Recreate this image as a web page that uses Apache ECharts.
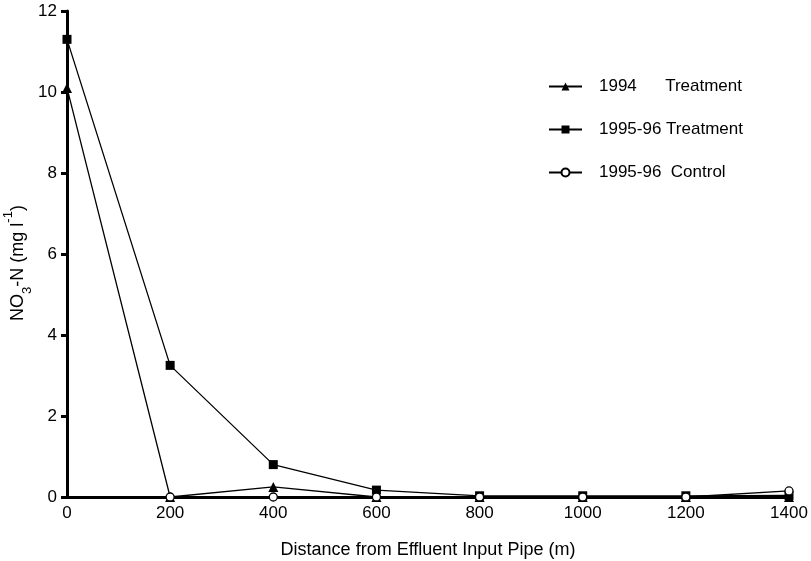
<!DOCTYPE html>
<html>
<head>
<meta charset="utf-8">
<script src="https://cdn.jsdelivr.net/npm/echarts@6/dist/echarts.min.js"></script>
<style>
  html, body { margin: 0; padding: 0; background: #fff; }
  #chart { width: 811px; height: 561px; }
</style>
</head>
<body>
<div id="chart"></div>
<script>
// distance from effluent input pipe (m)
var distances = [0, 200, 400, 600, 800, 1000, 1200, 1400];
// NO3-N (mg l-1)
var treat1994 = [10.1, 0, 0.25, 0, 0, 0, 0, 0];
var treat9596 = [11.3, 3.25, 0.8, 0.17, 0.03, 0.03, 0.03, 0.04];
var control9596 = [null, 0, 0, 0, 0, 0, 0, 0.15];
var seriesNames = ['1994      Treatment', '1995-96 Treatment', '1995-96  Control'];

function pairs(vals) {
  var out = [];
  for (var i = 0; i < distances.length; i++) {
    if (vals[i] !== null) out.push([distances[i], vals[i]]);
  }
  return out;
}

var font = 'Liberation Sans, Arial, sans-serif';
var chart = echarts.init(document.getElementById('chart'));

chart.setOption({
  animation: false,
  backgroundColor: '#fff',
  grid: { left: 67, right: 22, top: 11, bottom: 64, outerBoundsMode: 'none', containLabel: false },
  legend: {
    orient: 'vertical',
    left: 543,
    top: 73,
    itemWidth: 33,
    itemHeight: 10,
    itemGap: 26,
    textStyle: { fontFamily: font, fontSize: 17, color: '#000', padding: [0, 0, 0, 12] },
    data: seriesNames
  },
  xAxis: {
    type: 'value',
    min: 0, max: 1400, interval: 200,
    name: 'Distance from Effluent Input Pipe (m)',
    nameLocation: 'middle',
    nameGap: 44,
    nameTextStyle: { fontFamily: font, fontSize: 18, color: '#000' },
    axisLine: { show: true, lineStyle: { color: '#000', width: 3 } },
    axisTick: { show: false },
    splitLine: { show: false },
    axisLabel: {
      fontFamily: font, fontSize: 17, color: '#000', margin: 8,
      formatter: function (v) { return String(v); }
    }
  },
  yAxis: {
    type: 'value',
    min: 0, max: 12, interval: 2,
    name: '{a|NO}{sub|3}{a|-N (mg l}{sup|-1}{end|)}',
    nameLocation: 'middle',
    nameGap: 40,
    nameMoveOverlap: false,
    nameRotate: 90,
    nameTextStyle: {
      color: '#000',
      rich: {
        a: { fontFamily: font, fontSize: 18, color: '#000' },
        end: { fontFamily: font, fontSize: 18, color: '#000', padding: [0, 18, 0, 0] },
        sub: { fontFamily: font, fontSize: 13, color: '#000', verticalAlign: 'bottom', padding: [0, 0, -7, 0] },
        sup: { fontFamily: font, fontSize: 13, color: '#000', verticalAlign: 'top', padding: [-7, 0, 0, 0] }
      }
    },
    axisLine: { show: true, lineStyle: { color: '#000', width: 3 } },
    axisTick: { show: true, length: 6, lineStyle: { color: '#000', width: 3 } },
    splitLine: { show: false },
    axisLabel: { fontFamily: font, fontSize: 17, color: '#000', margin: 10 }
  },
  series: [
    {
      name: seriesNames[0],
      type: 'line',
      data: pairs(treat1994),
      symbol: 'triangle',
      symbolSize: 10,
      itemStyle: { color: '#000' },
      lineStyle: { color: '#000', width: 1.3 },
      z: 3
    },
    {
      name: seriesNames[1],
      type: 'line',
      data: pairs(treat9596),
      symbol: 'rect',
      symbolSize: 9,
      itemStyle: { color: '#000' },
      lineStyle: { color: '#000', width: 1.3 },
      z: 2
    },
    {
      name: seriesNames[2],
      type: 'line',
      data: pairs(control9596),
      symbol: 'circle',
      symbolSize: 8,
      showAllSymbol: true,
      itemStyle: { color: '#fff', borderColor: '#000', borderWidth: 1.3 },
      lineStyle: { color: '#000', width: 1.3 },
      z: 4
    }
  ]
});
</script>
</body>
</html>
